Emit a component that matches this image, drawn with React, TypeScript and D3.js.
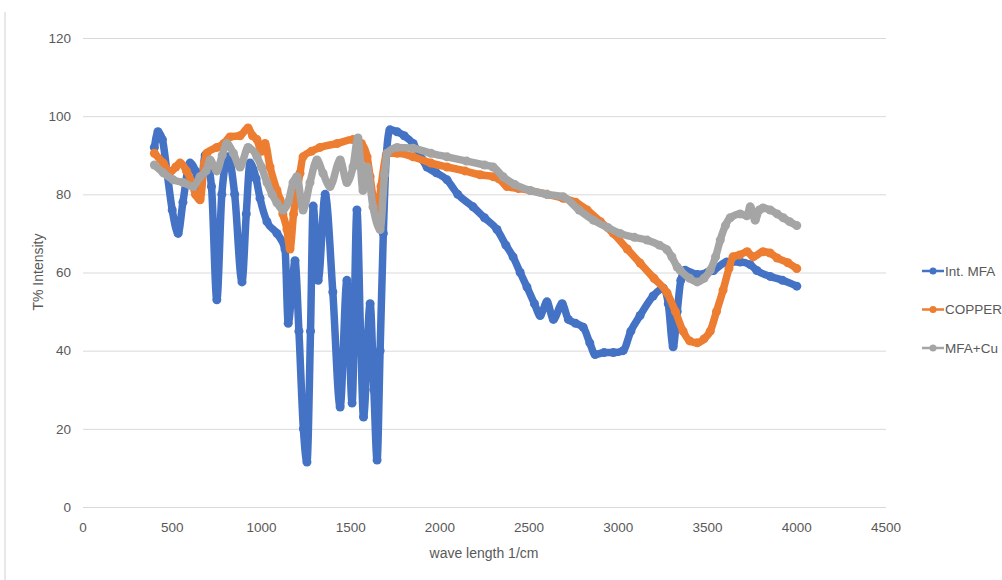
import * as d3 from "d3";
import React, { useEffect, useRef } from "react";

// wave number (1/cm), transmittance (%)
const intMfa: [number, number][] = [
  [400, 92], [420, 96], [445, 94], [470, 86], [500, 76], [533, 70], [560, 78], [600, 88], [630, 86],
  [656, 80], [685, 90], [720, 82], [750, 53], [778, 80], [813, 89.6], [850, 80], [891, 57.6], [915, 75],
  [936, 88], [970, 84], [992, 79], [1031, 73], [1087, 70], [1132, 66], [1150, 47], [1170, 55], [1188, 63],
  [1210, 45], [1235, 20], [1255, 11.5], [1275, 45], [1290, 77], [1318, 58], [1357, 80], [1400, 55],
  [1441, 25.6], [1479, 58], [1508, 26.6], [1535, 76], [1555, 45], [1572, 23], [1609, 52], [1630, 30],
  [1648, 12], [1665, 40], [1683, 70], [1700, 90], [1720, 96.5], [1760, 96], [1800, 95], [1850, 93],
  [1900, 89], [1928, 87], [1980, 85.5], [2040, 83.7], [2100, 80], [2186, 76.8], [2250, 74], [2320, 71],
  [2370, 67], [2410, 64], [2450, 60], [2488, 56.3], [2530, 52], [2562, 49], [2600, 52.5], [2636, 48],
  [2685, 52], [2720, 48], [2760, 47], [2803, 46], [2840, 42], [2870, 39], [2920, 39.5], [2972, 39.5],
  [3027, 40], [3070, 45], [3122, 49], [3195, 54], [3252, 56], [3280, 52], [3307, 41], [3330, 50],
  [3350, 58], [3374, 60.6], [3442, 59.5], [3500, 60], [3533, 60.5], [3608, 62.7], [3683, 62.7],
  [3739, 62], [3776, 60.5], [3851, 59], [3920, 58], [4000, 56.5],
];

const copper: [number, number][] = [
  [400, 90.5], [450, 88], [488, 85.7], [520, 87], [544, 88], [580, 86], [610, 83], [630, 80], [656, 78.6],
  [680, 88], [694, 90.5], [750, 92], [790, 93], [824, 94.7], [880, 95], [925, 97], [950, 95], [975, 94],
  [1000, 91], [1020, 93], [1048, 87], [1087, 81], [1104, 78.6], [1120, 75], [1143, 71], [1160, 66],
  [1180, 75], [1216, 85.4], [1233, 89.6], [1280, 91], [1328, 92], [1424, 93], [1513, 94], [1560, 93],
  [1592, 89.6], [1609, 84.5], [1630, 78], [1648, 75], [1670, 82], [1704, 90.5], [1760, 90.5],
  [1850, 89.6], [1950, 88], [2040, 87], [2140, 86], [2225, 85], [2300, 84.5], [2330, 84], [2376, 82],
  [2440, 81.5], [2505, 81], [2600, 80], [2690, 79], [2760, 78], [2825, 76], [2900, 73], [2972, 70],
  [3050, 66], [3122, 62.4], [3200, 58.5], [3273, 54.8], [3320, 50], [3363, 45], [3400, 42.5],
  [3442, 42], [3480, 43], [3515, 45], [3550, 50], [3587, 55.5], [3620, 61], [3643, 64], [3680, 64.5],
  [3722, 65.3], [3756, 64], [3811, 65.3], [3850, 65], [3890, 63.7], [3950, 62.5], [4000, 61],
];

const mfaCu: [number, number][] = [
  [400, 87.5], [450, 85.5], [506, 83.7], [562, 83], [618, 82], [656, 84.5], [690, 86], [712, 88.8],
  [750, 86], [780, 90], [806, 93], [843, 90.5], [880, 87], [925, 92], [975, 89.6], [1000, 87],
  [1031, 83], [1060, 80], [1087, 77.8], [1121, 76], [1150, 78], [1177, 83], [1199, 84.5], [1233, 76],
  [1272, 83], [1311, 88.8], [1345, 85.4], [1384, 82], [1441, 88.8], [1479, 83], [1513, 87], [1541, 94.4],
  [1569, 81], [1592, 87], [1625, 76.8], [1665, 71], [1690, 85], [1704, 90.5], [1760, 92], [1850, 91.8],
  [1950, 90.5], [2040, 89.6], [2150, 88.5], [2250, 87.5], [2298, 87], [2354, 84.5], [2420, 82.5],
  [2505, 81], [2600, 80], [2690, 79.4], [2780, 76], [2860, 73.4], [2940, 71.5], [3010, 70], [3090, 69],
  [3161, 68.3], [3230, 67], [3273, 65.8], [3300, 64], [3330, 61.4], [3346, 60.6], [3400, 58.5],
  [3442, 57.6], [3480, 58.5], [3515, 60.6], [3545, 64], [3571, 68.3], [3600, 72], [3627, 74], [3683, 75],
  [3720, 74.5], [3739, 76.8], [3767, 73.4], [3790, 76], [3811, 76.5], [3851, 76], [3890, 75], [3924, 74],
  [3960, 73], [4000, 72],
];

const seriesNames = ["Int. MFA", "COPPER", "MFA+Cu"];
const seriesColors = ["#4472C4", "#ED7D31", "#A5A5A5"];
const xTicks = [0, 500, 1000, 1500, 2000, 2500, 3000, 3500, 4000, 4500];
const yTicks = [0, 20, 40, 60, 80, 100, 120];

const font = "'Liberation Sans Narrow', 'Arial Narrow', 'Liberation Sans', sans-serif";

export default function App() {
  const svgRef = useRef<SVGSVGElement>(null);

  useEffect(() => {
    const width = 1002;
    const height = 580;
    const x = d3.scaleLinear().domain([0, 4500]).range([83, 886]);
    const y = d3.scaleLinear().domain([0, 120]).range([507, 38]);

    const svg = d3.select(svgRef.current);
    svg.selectAll("*").remove();
    svg.attr("width", width).attr("height", height);

    svg.append("rect").attr("width", width).attr("height", height).attr("fill", "#fff");

    // page edge on the left
    svg.append("line")
      .attr("x1", 5).attr("x2", 5).attr("y1", 12).attr("y2", height)
      .attr("stroke", "#d0d0d0").attr("stroke-width", 1);

    // horizontal gridlines
    svg.append("g")
      .selectAll("line")
      .data(yTicks)
      .join("line")
      .attr("x1", x(0)).attr("x2", x(4500))
      .attr("y1", (d) => y(d) + 0.5).attr("y2", (d) => y(d) + 0.5)
      .attr("stroke", "#d9d9d9").attr("stroke-width", 1);

    // tick labels
    svg.append("g")
      .selectAll("text")
      .data(yTicks)
      .join("text")
      .attr("x", 71).attr("y", (d) => y(d))
      .attr("dy", "0.35em")
      .attr("text-anchor", "end")
      .attr("font-family", font).attr("font-size", 13.5).attr("fill", "#595959")
      .text((d) => d);

    svg.append("g")
      .selectAll("text")
      .data(xTicks)
      .join("text")
      .attr("x", (d) => x(d)).attr("y", 527)
      .attr("dy", "0.35em")
      .attr("text-anchor", "middle")
      .attr("font-family", font).attr("font-size", 13.5).attr("fill", "#595959")
      .text((d) => d);

    // axis titles
    svg.append("text")
      .attr("x", 484).attr("y", 553).attr("dy", "0.35em")
      .attr("text-anchor", "middle")
      .attr("font-family", font).attr("font-size", 14).attr("fill", "#595959")
      .text("wave length 1/cm");

    svg.append("text")
      .attr("transform", "translate(38,272) rotate(-90)")
      .attr("dy", "0.35em")
      .attr("text-anchor", "middle")
      .attr("font-family", font).attr("font-size", 14).attr("fill", "#595959")
      .text("T% Intensity");

    // series
    const line = d3.line<[number, number]>()
      .x((d) => x(d[0]))
      .y((d) => y(d[1]))
      .curve(d3.curveMonotoneX);

    [intMfa, copper, mfaCu].forEach((data, i) => {
      const g = svg.append("g");
      g.append("path")
        .datum(data)
        .attr("d", line)
        .attr("fill", "none")
        .attr("stroke", seriesColors[i])
        .attr("stroke-width", 7.5)
        .attr("stroke-linejoin", "round")
        .attr("stroke-linecap", "round");
      g.selectAll("circle")
        .data(data)
        .join("circle")
        .attr("cx", (d) => x(d[0]))
        .attr("cy", (d) => y(d[1]))
        .attr("r", 4.5)
        .attr("fill", seriesColors[i]);
    });

    // legend
    const legend = svg.append("g")
      .selectAll("g")
      .data(seriesNames)
      .join("g")
      .attr("transform", (_, i) => `translate(922,${271 + i * 38.5})`);
    legend.append("line")
      .attr("x1", 0).attr("x2", 22)
      .attr("stroke", (_, i) => seriesColors[i]).attr("stroke-width", 2.5);
    legend.append("circle")
      .attr("cx", 11).attr("r", 3.5)
      .attr("fill", (_, i) => seriesColors[i]);
    legend.append("text")
      .attr("x", 23).attr("dy", "0.35em")
      .attr("font-family", font).attr("font-size", 13.5).attr("fill", "#595959")
      .text((d) => d);
  }, []);

  return (
    <div style={{ position: "absolute", left: 0, top: 0 }}>
      <svg ref={svgRef} style={{ display: "block" }} />
    </div>
  );
}
